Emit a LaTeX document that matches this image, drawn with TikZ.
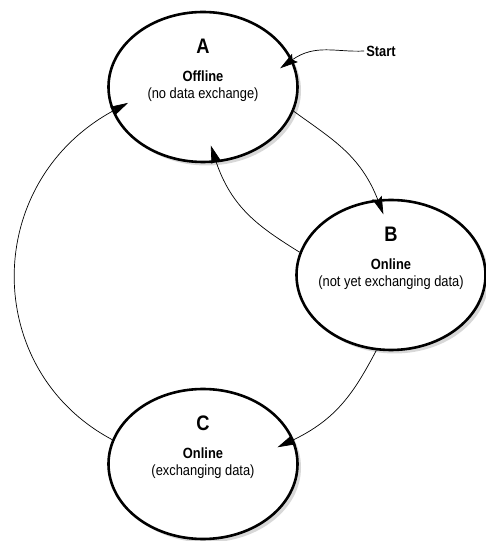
\documentclass[tikz,border=0pt]{standalone}
\usepackage{fontspec}
\setmainfont[FakeStretch=0.87]{Liberation Sans}
\usetikzlibrary{shapes.geometric,shadows,arrows.meta,calc}
\begin{document}
\begin{tikzpicture}[x=1pt,y=1pt,
  state/.style={ellipse, draw, line width=2.6pt, fill=white,
    minimum width=189pt, minimum height=150pt, inner sep=0pt,
    drop shadow={shadow xshift=3.5pt, shadow yshift=-3.5pt, fill=black!30}},
  letter/.style={font=\fontsize{21}{24}\selectfont\bfseries, inner sep=0pt},
  title/.style={font=\fontsize{14.8}{17}\selectfont\bfseries, inner sep=0pt},
  desc/.style={font=\fontsize{14.8}{17}\selectfont, inner sep=0pt},
  conn/.style={line width=0.7pt, -{Stealth[length=18pt,width=10pt,inset=3pt]}},
]
\useasboundingbox (0,0) rectangle (486,541);

\node[state] (A) at (203,454) {};
\node[state] (B) at (391,266) {};
\node[state] (C) at (203,77) {};

\node[letter] (Al) at ($(A)+(0,41)$) {A};
\node[title]  (At) at ($(A)+(0,11)$) {Offline};
\node[desc]   (Ad) at ($(A)+(0,-8)$) {(no data exchange)};

\node[letter] (Bl) at ($(B)+(0,41)$) {B};
\node[title]  (Bt) at ($(B)+(0,11)$) {Online};
\node[desc]   (Bd) at ($(B)+(0,-8)$) {(not yet exchanging data)};

\node[letter] (Cl) at ($(C)+(0,41)$) {C};
\node[title]  (Ct) at ($(C)+(0,11)$) {Online};
\node[desc]   (Cd) at ($(C)+(0,-8)$) {(exchanging data)};

\node[title, inner sep=2pt] (start) at (381,490) {Start};

\draw[conn, shorten >=-15pt] (start.west) to[out=183,in=35] (A.17);
\draw[conn, shorten >=-16pt] (A.-15) to[out=-36,in=111] (B.100);
\draw[conn, shorten >=-18pt] (B.166) to[out=148,in=-72] (A.-80);
\draw[conn, shorten >=-18pt] (B.-101) to[out=242,in=25] (C.15);
\draw[conn, shorten >=-18pt] (C.165) to[out=152,in=208,looseness=1.16] (A.195);
\end{tikzpicture}
\end{document}
